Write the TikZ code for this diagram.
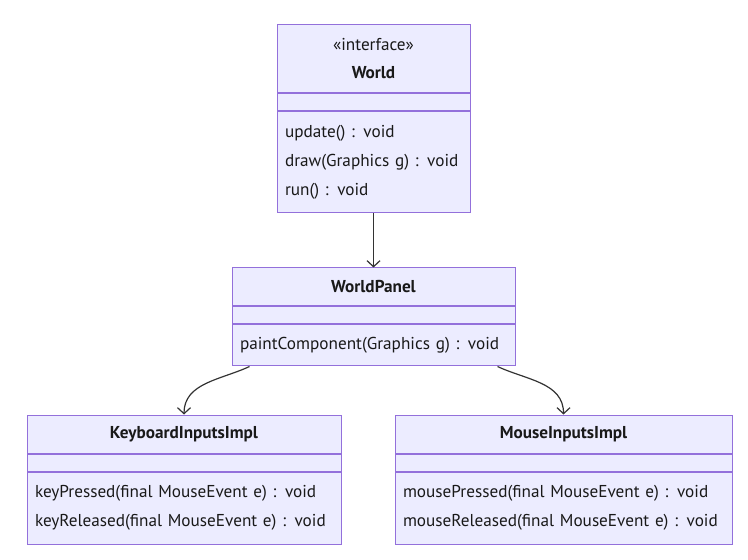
\documentclass[tikz,border=0pt]{standalone}
\usepackage{fontspec}
\setmainfont{PT Sans}
\usetikzlibrary{positioning,arrows.meta}

\definecolor{umlfill}{HTML}{ECECFF}
\definecolor{umlline}{HTML}{9370DB}
\definecolor{linkcol}{HTML}{333333}

\tikzset{
  part/.style={rectangle, draw=umlline, fill=umlfill, line width=0.5pt, inner sep=0pt,
    text=black!90, font=\fontsize{8.6}{14.5}\selectfont},
  head/.style={part, align=center, font=\fontsize{8.6}{14}\selectfont\bfseries},
  attr/.style={part, minimum height=8.5pt},
  meth/.style={part, align=left},
  link/.style={draw=linkcol, line width=0.6pt, -{Straight Barb[length=3pt,width=6.5pt]}}
}

\begin{document}
\begin{tikzpicture}
      \useasboundingbox (0pt,0pt) rectangle (374pt,-280pt);

      % World
      \node[head, minimum width=96.5pt, minimum height=34pt] (worldHead) at (186.75pt,-29.5pt) {{\mdseries «interface»}\\World};
      \node[attr, minimum width=96.5pt] (worldAttr) [below = 0pt of worldHead] {};
      \node[meth, minimum width=96.5pt, minimum height=50.5pt, text width=88.5pt] (worldMeth) [below = 0pt of worldAttr] {update() : void\\draw(Graphics g) : void\\run() : void};

      % WorldPanel
      \node[head, minimum width=141.5pt, minimum height=19pt] (panelHead) [below = 27pt of worldMeth] {WorldPanel};
      \node[attr, minimum width=141.5pt] (panelAttr) [below = 0pt of panelHead] {};
      \node[meth, minimum width=141.5pt, minimum height=20.5pt, text width=133.5pt] (panelMeth) [below = 0pt of panelAttr] {paintComponent(Graphics g) : void};

      % KeyboardInputsImpl
      \node[head, minimum width=157pt, minimum height=19pt] (keyHead) at (92pt,-217pt) {KeyboardInputsImpl};
      \node[attr, minimum width=157pt] (keyAttr) [below = 0pt of keyHead] {};
      \node[meth, minimum width=157pt, minimum height=36pt, text width=149pt] (keyMeth) [below = 0pt of keyAttr] {keyPressed(final MouseEvent e) : void\\keyReleased(final MouseEvent e) : void};

      % MouseInputsImpl
      \node[head, minimum width=168.5pt, minimum height=19pt] (mouseHead) at (281.75pt,-217pt) {MouseInputsImpl};
      \node[attr, minimum width=168.5pt] (mouseAttr) [below = 0pt of mouseHead] {};
      \node[meth, minimum width=168.5pt, minimum height=36pt, text width=160.5pt] (mouseMeth) [below = 0pt of mouseAttr] {mousePressed(final MouseEvent e) : void\\mouseReleased(final MouseEvent e) : void};

      \draw[link] (worldMeth) -- (panelHead);
      \draw[link] ([xshift=9pt]panelMeth.south west) to[out=205, in=90] (keyHead.north);
      \draw[link] ([xshift=-9pt]panelMeth.south east) to[out=-25, in=90] (mouseHead.north);
    \end{tikzpicture}
\end{document}
